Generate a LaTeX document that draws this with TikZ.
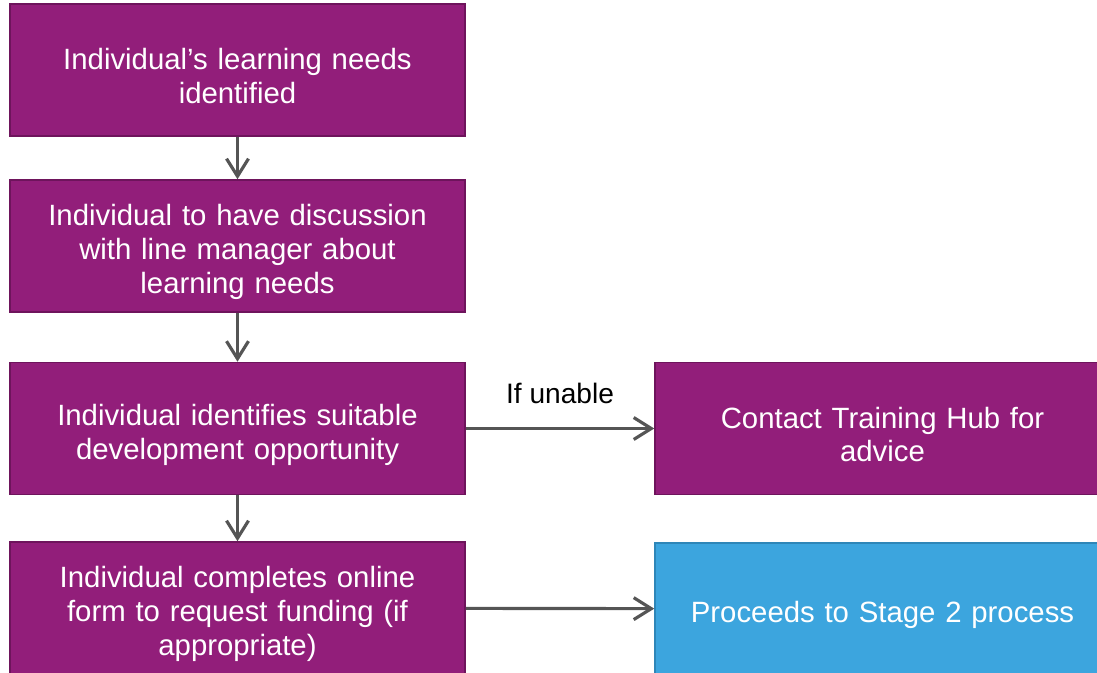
\documentclass[tikz,border=0pt]{standalone}
\usepackage{fontspec}
\setmainfont{Liberation Sans}
\usetikzlibrary{arrows.meta}
\definecolor{hubpurple}{RGB}{146,30,122}
\definecolor{hubpurpleline}{RGB}{110,20,92}
\definecolor{hubblue}{RGB}{60,165,222}
\definecolor{hubblueline}{RGB}{46,134,184}
\definecolor{arrowgrey}{RGB}{85,85,85}
\tikzset{
	stepbox/.style = {rectangle, fill=hubpurple, draw=hubpurpleline, line width=0.9pt,
		minimum width=9.1cm, minimum height=2.64cm, text width=8.7cm, text=white, align=center,
		font=\fontsize{16.7}{19.2}\selectfont,
		execute at begin node={\rule{0pt}{19pt}}},
	endbox/.style = {stepbox, fill=hubblue, draw=hubblueline},
	link/.style = {draw=arrowgrey, line width=1.8pt, -{Straight Barb[length=10pt, width=12.5pt, line width=1.8pt]}}
}
\begin{document}
\begin{tikzpicture}[x=0.02cm, y=-0.02cm]
		\clip (0, 0) rectangle (1097, 672);
		\useasboundingbox (0, 0) rectangle (1097, 672);
		% left column
		\node[stepbox] (needs) at (237.5, 70) {Individual’s learning needs\\identified};
		\node[stepbox] (talk) at (237.5, 246) {Individual to have discussion\\with line manager about\\learning needs};
		\node[stepbox] (find) at (237.5, 428.5) {Individual identifies suitable\\development opportunity};
		\node[stepbox] (form) at (237.5, 608) {Individual completes online\\form to request funding (if\\appropriate)};
		% right column
		\node[stepbox] (hub) at (882.5, 428.5) {Contact Training Hub for\\advice};
		\node[endbox] (stage) at (882.5, 609) {Proceeds to Stage 2 process};
		% arrows
		\draw[link] (needs) -- (talk);
		\draw[link] (talk) -- (find);
		\draw[link] (find) -- (form);
		\draw[link] (find) -- node[above=10pt, font=\fontsize{16}{19}\selectfont] {If unable} (hub);
		\draw[link] (form) -- (stage);
	\end{tikzpicture}
\end{document}
